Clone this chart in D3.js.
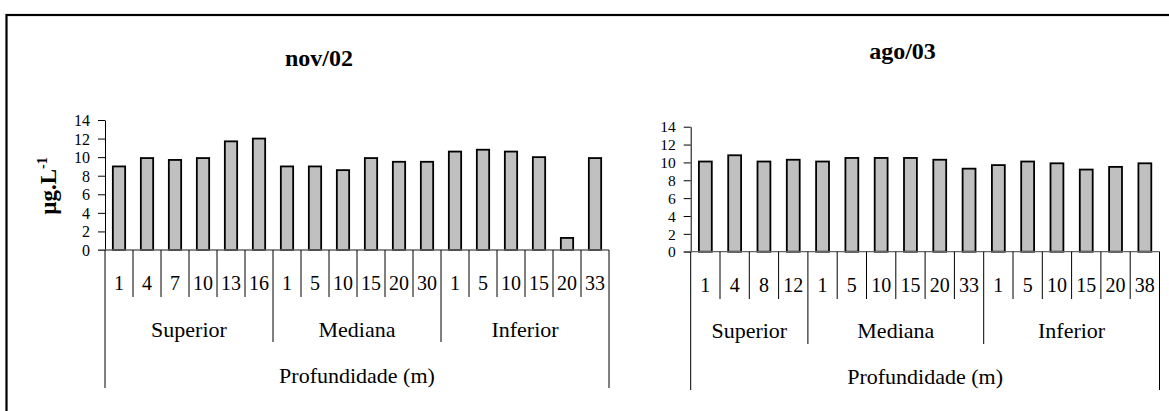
<!DOCTYPE html>
<html>
<head>
<meta charset="utf-8">
<script src="https://cdn.jsdelivr.net/npm/d3@7"></script>
<style>
  html, body { margin: 0; padding: 0; background: #fff; }
  svg { display: block; }
  text { font-family: "Liberation Serif", "Times New Roman", Times, serif; fill: #000; }
</style>
</head>
<body>
<svg id="chart" width="1169" height="411"></svg>
<script>
// Chlorophyll concentration (µg.L-1) by depth and sampling zone
const yTicks = [0, 2, 4, 6, 8, 10, 12, 14];
const groupNames = ["Superior", "Mediana", "Inferior"];
const axisTitle = "Profundidade (m)";
const FONT = '"Liberation Serif", "Times New Roman", Times, serif';

// nov/02
const novTitle = "nov/02";
const novDepths = [[1, 4, 7, 10, 13, 16], [1, 5, 10, 15, 20, 30], [1, 5, 10, 15, 20, 33]];
const novValues = [[9.0, 9.9, 9.7, 9.9, 11.7, 12.0], [9.0, 9.0, 8.6, 9.9, 9.5, 9.5], [10.6, 10.8, 10.6, 10.0, 1.3, 9.9]];

// ago/03
const agoTitle = "ago/03";
const agoDepths = [[1, 4, 8, 12], [1, 5, 10, 15, 20, 33], [1, 5, 10, 15, 20, 38]];
const agoValues = [[10.1, 10.8, 10.1, 10.3], [10.1, 10.5, 10.5, 10.5, 10.3, 9.3], [9.7, 10.1, 9.9, 9.2, 9.5, 9.9]];

const svg = d3.select("#chart");

// outer frame
svg.append("rect")
  .attr("x", 6.5).attr("y", 15).attr("width", 1200).attr("height", 420)
  .attr("fill", "none").attr("stroke", "#000").attr("stroke-width", 2.2);

function drawPanel(opt) {
  const { title, depths, values, x0, x1, yBase, yTop, titleX, titleY, tickFont,
          catY, groupY, axisTitleY, catLineY, groupLineY, outerLineY } = opt;

  // flatten into one row of categories, keeping the group index
  const rows = [];
  depths.forEach((ds, g) => ds.forEach((d, k) => rows.push({ g, depth: d, value: values[g][k] })));
  const n = rows.length;

  const x = d3.scaleBand().domain(d3.range(n)).range([x0, x1])
    .paddingInner(0.56).paddingOuter(0.28);
  const y = d3.scaleLinear().domain([0, 14]).range([yBase, yTop]);
  const step = (x1 - x0) / n;

  const panel = svg.append("g");

  // title
  panel.append("text")
    .attr("x", titleX).attr("y", titleY)
    .attr("text-anchor", "middle")
    .style("font-family", FONT)
    .style("font-size", "24px").style("font-weight", "bold")
    .text(title);

  // bars
  panel.append("g").selectAll("rect").data(rows).join("rect")
    .attr("x", (d, i) => x(i))
    .attr("y", d => y(d.value))
    .attr("width", x.bandwidth())
    .attr("height", d => y(0) - y(d.value))
    .attr("fill", "#c0c0c0")
    .attr("stroke", "#000")
    .attr("stroke-width", 1.8);

  // value axis
  const yAxis = panel.append("g")
    .attr("transform", `translate(${x0},0)`)
    .call(d3.axisLeft(y).tickValues(yTicks).tickSize(7).tickSizeOuter(0).tickPadding(8));
  yAxis.attr("font-family", null);
  yAxis.select(".domain").attr("stroke", "#000").attr("stroke-width", 1);
  yAxis.selectAll(".tick line").attr("stroke", "#000");
  yAxis.selectAll(".tick text")
    .style("font-family", FONT)
    .style("font-size", tickFont + "px")
    .attr("dy", "0.34em");

  // category baseline
  panel.append("line")
    .attr("x1", x0 - 7).attr("x2", x1)
    .attr("y1", yBase).attr("y2", yBase)
    .attr("stroke", "#666").attr("stroke-width", 1.3);

  // category separators: short between depths, longer between zones, longest at the ends
  const groupStarts = [];
  let acc = 0;
  depths.forEach(ds => { groupStarts.push(acc); acc += ds.length; });
  const seps = d3.range(n + 1).map(i => {
    let bottom = catLineY;
    if (i === 0 || i === n) bottom = outerLineY;
    else if (groupStarts.includes(i)) bottom = groupLineY;
    return { xp: x0 + i * step, bottom };
  });
  panel.append("g").selectAll("line").data(seps).join("line")
    .attr("x1", d => d.xp).attr("x2", d => d.xp)
    .attr("y1", yBase).attr("y2", d => d.bottom)
    .attr("stroke", "#000").attr("stroke-width", 1);

  // depth labels
  panel.append("g").selectAll("text").data(rows).join("text")
    .attr("x", (d, i) => x0 + (i + 0.5) * step)
    .attr("y", catY)
    .attr("text-anchor", "middle")
    .style("font-family", FONT)
    .style("font-size", "20px")
    .text(d => d.depth);

  // zone labels
  panel.append("g").selectAll("text").data(depths).join("text")
    .attr("x", (d, g) => x0 + (groupStarts[g] + d.length / 2) * step)
    .attr("y", groupY)
    .attr("text-anchor", "middle")
    .style("font-family", FONT)
    .style("font-size", "22px")
    .text((d, g) => groupNames[g]);

  // axis title
  panel.append("text")
    .attr("x", (x0 + x1) / 2).attr("y", axisTitleY)
    .attr("text-anchor", "middle")
    .style("font-family", FONT)
    .style("font-size", "22px")
    .text(axisTitle);
}

drawPanel({
  title: novTitle, depths: novDepths, values: novValues,
  x0: 105, x1: 609, yBase: 250, yTop: 120, tickFont: 16,
  titleX: 319, titleY: 66,
  catY: 290, groupY: 337, axisTitleY: 383,
  catLineY: 297, groupLineY: 342, outerLineY: 388
});

drawPanel({
  title: agoTitle, depths: agoDepths, values: agoValues,
  x0: 690.7, x1: 1159.5, yBase: 251.7, yTop: 126.7, tickFont: 15.5,
  titleX: 902.5, titleY: 59,
  catY: 292, groupY: 338, axisTitleY: 384,
  catLineY: 299, groupLineY: 344, outerLineY: 390
});

// value axis label (left panel only)
svg.append("text")
  .attr("transform", "translate(56,186) rotate(-90)")
  .attr("text-anchor", "middle")
  .style("font-family", FONT)
  .style("font-size", "23px").style("font-weight", "bold")
  .html('µg.L<tspan dy="-9" style="font-size:14px">-1</tspan>');
</script>
</body>
</html>
